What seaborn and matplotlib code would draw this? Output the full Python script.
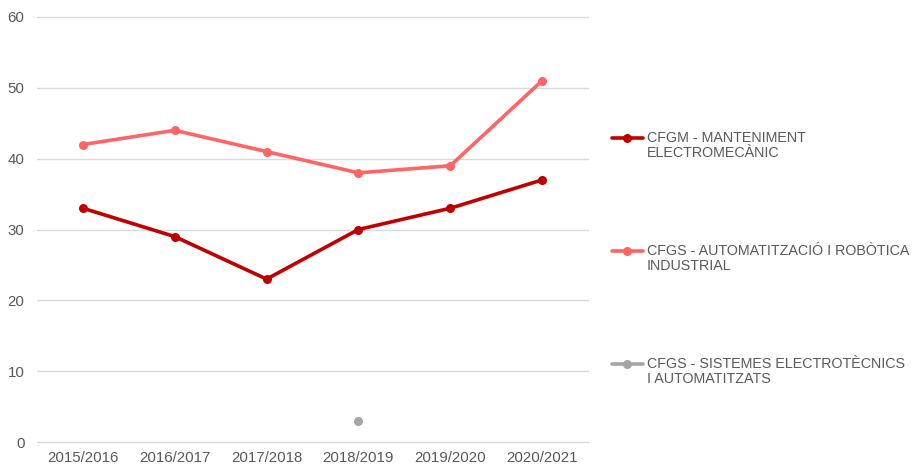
import numpy as np
import pandas as pd
import matplotlib
matplotlib.use("Agg")
import matplotlib.pyplot as plt
from matplotlib.lines import Line2D
import seaborn as sns

cursos = ["2015/2016", "2016/2017", "2017/2018", "2018/2019", "2019/2020", "2020/2021"]
manteniment = [33, 29, 23, 30, 33, 37]
robotica = [42, 44, 41, 38, 39, 51]
sistemes = [np.nan, np.nan, np.nan, 3, np.nan, np.nan]

series_names = [
    "CFGM - MANTENIMENT\nELECTROMECÀNIC",
    "CFGS - AUTOMATITZACIÓ I ROBÒTICA\nINDUSTRIAL",
    "CFGS - SISTEMES ELECTROTÈCNICS\nI AUTOMATITZATS",
]
colors = ["#C00000", "#FF6565", "#A5A5A5"]
yticks = [0, 10, 20, 30, 40, 50, 60]

sns.set_theme(style="white")
plt.rcParams["font.family"] = ["Liberation Sans", "DejaVu Sans"]
text_col = "#595959"

rows = []
for name, vals in zip(series_names, [manteniment, robotica, sistemes]):
    for i, v in enumerate(vals):
        if not np.isnan(v):
            rows.append({"idx": i, "valor": v, "serie": name})
df = pd.DataFrame(rows)

W, H = 922, 466
fig = plt.figure(figsize=(W / 100, H / 100), dpi=100)
ax = fig.add_axes([37 / W, 1 - 442 / H, 551 / W, 425 / H])

sns.lineplot(data=df, x="idx", y="valor", hue="serie", hue_order=series_names,
             palette=colors, marker="o", markersize=6.5, markeredgewidth=0,
             linewidth=2.6, ax=ax, legend=False)

ax.set_xlim(-0.5, 5.5)
ax.set_ylim(0, 60)
ax.set_yticks(yticks)
ax.set_xticks(range(len(cursos)))
ax.set_xticklabels(cursos)
ax.set_xlabel("")
ax.set_ylabel("")
ax.yaxis.grid(True, color="#D9D9D9", linewidth=1)
for gl in ax.get_ygridlines():
    gl.set_clip_on(False)
ax.set_axisbelow(True)
for s in ax.spines.values():
    s.set_visible(False)
ax.tick_params(axis="both", length=0, colors=text_col)
ax.tick_params(axis="x", labelsize=10.8, pad=6.5)
ax.tick_params(axis="y", labelsize=10.8, pad=9)

# legend drawn by hand so the marker sits on the first text line
legend_y = [138, 251, 364]
for name, c, yp in zip(series_names, colors, legend_y):
    yf = 1 - yp / H
    fig.add_artist(Line2D([612 / W, 643 / W], [yf, yf], color=c, linewidth=2.6,
                          transform=fig.transFigure))
    fig.add_artist(Line2D([627 / W], [yf], color=c, marker="o", markersize=6.5,
                          markeredgewidth=0, transform=fig.transFigure))
    fig.text(647 / W, yf + 7 / H, name, ha="left", va="top", fontsize=10.3,
             color=text_col, linespacing=1.1)

fig.savefig("out.png", dpi=100)
